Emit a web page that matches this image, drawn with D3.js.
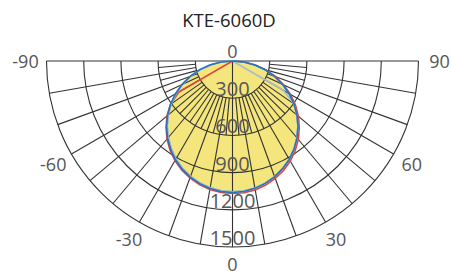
<!DOCTYPE html>
<html lang="en">
<head>
<meta charset="utf-8">
<title>KTE-6060D</title>
<style>
  body { margin: 0; background: #fff; }
  .title { font: 18.5px "Open Sans", sans-serif; fill: #222; }
  .ang { font: 18px "Open Sans", sans-serif; fill: #555; }
  .ring-label { font: 20px "Open Sans", sans-serif; fill: #575757; }
  .grid { fill: none; stroke: #333; stroke-width: 1.1; }
  .curve { fill: none; stroke-width: 1.6; }
</style>
<script src="https://cdnjs.cloudflare.com/ajax/libs/d3/7.8.5/d3.min.js"></script>
</head>
<body>
<svg width="451" height="277"></svg>
<script>
// gamma angles (deg, 0 = nadir) and intensities (cd)
const angles = [-90, -85, -80, -75, -70, -65, -60, -55, -50, -45, -40, -35, -30, -25, -20, -15, -10, -5,
  0, 5, 10, 15, 20, 25, 30, 35, 40, 45, 50, 55, 60, 65, 70, 75, 80, 85, 90];
const c0 = [0, 0, 0, 0, 0, 0, 500, 612, 690, 758, 822, 878, 928, 970, 1004, 1032, 1052, 1064,
  1068, 1066, 1056, 1036, 1008, 974, 932, 882, 826, 762, 694, 620, 540, 456, 370, 280, 188, 94, 0];
const c90 = [0, 93, 185, 276, 364, 450, 532, 610, 684, 752, 814, 870, 920, 962, 996, 1024, 1044, 1056,
  1060, 1056, 1043, 1022, 994, 958, 916, 866, 810, 748, 680, 606, 528, 446, 362, 274, 183, 92, 0];
const c180 = [0, 92, 183, 273, 360, 445, 526, 604, 677, 745, 806, 862, 912, 955, 990, 1018, 1038, 1050,
  1055, 1052, 1040, 1020, 992, 957, 915, 865, 808, 746, 678, 604, 526, 444, 360, 272, 182, 91, 0];
const c270 = [0, 92, 183, 273, 360, 445, 526, 604, 677, 745, 806, 862, 912, 955, 990, 1018, 1038, 1050,
  1055, 1052, 1040, 1020, 992, 957, 915, 865, 808, 746, 678, 604, 475, 0, 0, 0, 0, 0, 0];
const rings = [300, 600, 900, 1200, 1500];
const angleTicks = [-90, -60, -30, 0, 30, 60, 90];
const title = "KTE-6060D";

const series = [
  { name: "C0", values: c0, color: "#e2453a" },
  { name: "C180", values: c180, color: "#3fc3d6" },
  { name: "C270", values: c270, color: "#a9bccb" },
  { name: "C90", values: c90, color: "#2a6fc0" }
];

const svg = d3.select("svg");
const cx = 232.5, cy = 61, R = 186;

const r = d3.scaleLinear().domain([0, 1500]).range([0, R]);
// gamma -> lineRadial angle (0 = pointing down)
const a = d3.scaleLinear().domain([-180, 180]).range([2 * Math.PI, 0]);

const g = svg.append("g").attr("transform", `translate(${cx},${cy})`);

const line = d3.lineRadial()
  .angle((d, i) => a(angles[i]))
  .radius(d => r(d));

// fill under the C90 curve
g.append("path")
  .attr("d", line(c90) + "Z")
  .attr("fill", "#f4e57c");

// grid rings
rings.forEach(v => {
  const p = d3.path();
  p.arc(0, 0, r(v), 0, Math.PI);
  g.append("path").attr("class", "grid").attr("d", p.toString());
});

// spokes
const spoke = (deg, v0, v1) => {
  const t = deg * Math.PI / 180;
  g.append("line").attr("class", "grid")
    .attr("x1", r(v0) * Math.sin(t)).attr("y1", r(v0) * Math.cos(t))
    .attr("x2", r(v1) * Math.sin(t)).attr("y2", r(v1) * Math.cos(t));
};
g.append("line").attr("class", "grid")
  .attr("x1", -R).attr("y1", 0).attr("x2", R).attr("y2", 0);
spoke(0, 0, 1500);
for (let d = -80; d <= 80; d += 10) if (d !== 0) spoke(d, 300, 1500);
for (let d = -85; d <= 85; d += 10) spoke(d, 300, 600);

// ring labels
g.selectAll(".ring-label").data(rings).join("text")
  .attr("class", "ring-label")
  .attr("text-anchor", "middle")
  .attr("x", 0)
  .attr("y", d => r(d) - 2)
  .text(d => d);

// curves
series.forEach(s => {
  g.append("path").attr("class", "curve")
    .attr("stroke", s.color)
    .attr("d", line(s.values));
});

// angle labels
g.selectAll(".ang").data(angleTicks).join("text")
  .attr("class", "ang")
  .attr("text-anchor", "middle")
  .attr("dominant-baseline", "central")
  .attr("x", d => (R + 21) * Math.sin(d * Math.PI / 180))
  .attr("y", d => (R + (d === 0 ? 17 : 20)) * Math.cos(d * Math.PI / 180))
  .text(d => d);

g.append("text").attr("class", "ang")
  .attr("text-anchor", "middle")
  .attr("x", 0).attr("y", -3)
  .text(0);

svg.append("text").attr("class", "title")
  .attr("x", 229).attr("y", 27)
  .attr("text-anchor", "middle")
  .text(title);
</script>
</body>
</html>
